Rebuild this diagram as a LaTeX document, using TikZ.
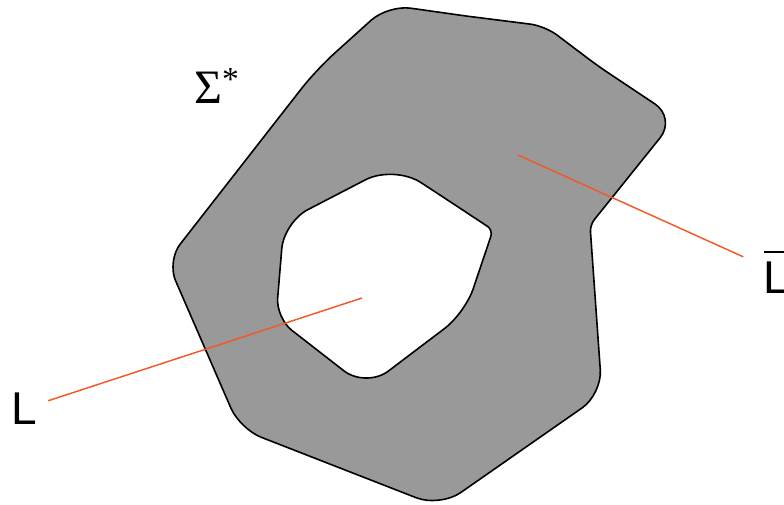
\documentclass[tikz,border=0pt]{standalone}
\usepackage{fontspec}
\newfontfamily\labelfont{Liberation Sans}
\newfontfamily\sigmafont{Liberation Serif}
\definecolor{markorange}{RGB}{240,90,40}
\definecolor{flaeche}{RGB}{153,153,153}

\begin{document}
\begin{tikzpicture}[
    x=0.75pt, y=-0.75pt,
    setlabel/.style={font=\labelfont\fontsize{34.5}{40}\selectfont, inner sep=8pt},
    tagline/.style={markorange, line width=1.1pt}
]

% --- Rahmen: 784 x 504 px, y nach unten ---
\useasboundingbox (0,0) rectangle (784,504);

% --- Flaeche fuer L-quer, mit Loch fuer L (even odd) ---
\filldraw[fill=flaeche, draw=black, line width=1.2pt, even odd rule]
  % Aussenrand
  (466,16) [rounded corners=11pt] -- (545,26) [rounded corners=9pt] -- (598,66)
  [rounded corners=19pt] -- (676,118) [rounded corners=5pt] -- (590,225)
  [rounded corners=18pt] -- (602,394) [rounded corners=19pt] -- (440,507)
  [rounded corners=17pt] -- (240,429) [rounded corners=16pt] -- (167,261)
  [rounded corners=18pt] -- (316,70) [rounded corners=17pt] -- (388,5)
  [sharp corners] -- cycle
  % Loch
  (443,197) [rounded corners=5pt] -- (493,230) [rounded corners=19pt] -- (465,313)
  [rounded corners=21pt] -- (366,388) [rounded corners=15pt] -- (276,318)
  [rounded corners=20pt] -- (284,222) [rounded corners=24pt] -- (394,165)
  [sharp corners] -- cycle;

% --- Beschriftungen ---
\node (sigma) at (217,86) {\sigmafont\fontsize{36}{40}\selectfont Σ\textsuperscript{*}};
\node[setlabel] (lab-L) at (24.4,408.5) {L};
\node[setlabel, anchor=base west] (lab-Lbar) at (753,293)
  {\vbox{\hrule height 1.9pt\kern 6pt\hbox{L}}};

% --- Zuordnungslinien ---
\coordinate (in-L) at (362,298);
\coordinate (in-Lbar) at (518,155);
\draw[tagline] (in-L) -- (lab-L);
\draw[tagline, shorten >=8pt] (in-Lbar) -- (lab-Lbar);

\end{tikzpicture}
\end{document}
